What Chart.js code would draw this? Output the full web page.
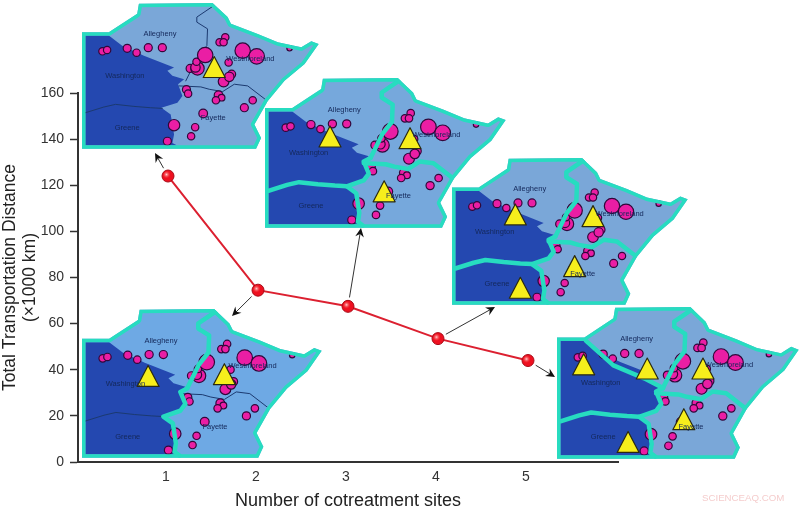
<!DOCTYPE html>
<html>
<head>
<meta charset="utf-8">
<style>
  html, body { margin: 0; padding: 0; background: #fff; }
  #wrap { width: 800px; height: 508px; position: relative; }
</style>
<script src="https://cdn.jsdelivr.net/npm/chart.js@4"></script>
</head>
<body>
<div id="wrap"><canvas id="chart" width="800" height="508"></canvas></div>
<script>
// ============================================================
// Data
// ============================================================
const sites = [1, 2, 3, 4, 5];
const distance = [124, 74.5, 67.5, 53.5, 44];
const yTicks = [0, 20, 40, 60, 80, 100, 120, 140, 160];

// ============================================================
// Inset map template (all in one shared map space, 705 x 432)
// ============================================================
const outline = [[35,95],[115,95],[200,40],[205,10],[425,8],[470,50],[480,70],[560,100],[620,125],[690,140],[720,122],[742,130],[700,190],[640,240],[590,300],[550,370],[570,410],[555,442],[35,442]];
const darkArea = [[45,105],[115,105],[155,135],[220,165],[310,200],[290,210],[305,225],[340,235],[322,250],[335,285],[320,305],[272,320],[300,340],[310,400],[305,425],[318,432],[45,432]];
const alleWest = [[430,15],[378,50],[378,65],[410,85],[408,135],[380,170],[345,240]];
const darkEdge = [[345,240],[325,250],[340,285],[325,305],[275,322],[303,342],[312,400],[308,425],[322,436]];
const washGreene = [[45,335],[100,318],[135,310],[190,316],[240,320],[275,322]];
const westFay = [[325,255],[390,258],[415,265],[455,272],[490,250],[530,255],[585,297]];
const alleWash = [[120,105],[200,175],[290,212],[345,240]];
const dots = [[96,152,11],[110,148,11],[170,143,12],[198,156,11],[233,141,12],[275,141,12],[358,203,12],[380,203,20],[374,200,14],[377,183,11],[403,163,23],[446,125,11],[463,110,11],[458,125,11],[515,150,23],[557,167,23],[655,143,8],[473,185,11],[458,242,16],[482,220,12],[475,228,14],[347,266,12],[352,278,11],[443,283,13],[452,290,10],[435,298,11],[545,298,11],[520,320,12],[397,337,13],[310,372,17],[373,378,11],[361,405,11],[290,420,12]];
const mapLabels = [["Allegheny",268,100],["Washington",163,226],["Greene",170,380],["Westmoreland",538,174],["Fayette",427,351]];
const insets = [
  { box:[82,3,236,145], light:"#7aa7d8", teal:[], thin:[alleWest,washGreene,westFay], tris:[[430,230]] },
  { box:[265,78,240,149], light:"#76a8dc", teal:[alleWest,darkEdge,washGreene,westFay], thin:[], tris:[[226,208],[461,213],[385,367]] },
  { box:[452,158,235,146], light:"#7aa7d8", teal:[alleWest,darkEdge,washGreene,westFay], thin:[], tris:[[225,206],[458,211],[403,359],[240,423]] },
  { box:[82,309,239,148], light:"#6ea9e4", teal:[alleWest,darkEdge], thin:[washGreene,westFay], tris:[[230,234],[455,229]] },
  { box:[557,307,241,151], light:"#7aa7d8", teal:[alleWest,darkEdge,washGreene,westFay,alleWash], thin:[], tris:[[113,202],[299,214],[462,214],[406,359],[243,424]] }
];
// arrows: index of the point they leave, then where the head lands
const arrows = [[0,155,153],[1,232,316],[2,361,228],[3,495,307],[4,555,377]];

// ============================================================
// Drawing helpers
// ============================================================
function tracePath(ctx, pts, fx, fy, close) {
  ctx.beginPath();
  pts.forEach((p, i) => i ? ctx.lineTo(fx(p[0]), fy(p[1])) : ctx.moveTo(fx(p[0]), fy(p[1])));
  if (close) ctx.closePath();
}

function drawInset(ctx, m) {
  const [bx, by, bw, bh] = m.box;
  const sx = bw / 705, sy = bh / 432;
  const fx = (x) => bx + (x - 35) * sx;
  const fy = (y) => by + (y - 8) * sy;

  ctx.save();
  ctx.lineJoin = "round";
  ctx.lineCap = "round";

  // everything stays inside the outline, band included
  tracePath(ctx, outline, fx, fy, true);
  ctx.clip();
  ctx.fillStyle = m.light;
  ctx.fillRect(bx - 5, by - 5, bw + 10, bh + 10);

  tracePath(ctx, darkArea, fx, fy, true);
  ctx.fillStyle = "#2448b0";
  ctx.fill();

  for (const t of m.thin) {
    tracePath(ctx, t, fx, fy, false);
    ctx.strokeStyle = "#1c3a70";
    ctx.lineWidth = 1;
    ctx.stroke();
  }

  for (const d of dots) {
    ctx.beginPath();
    ctx.arc(fx(d[0]), fy(d[1]), d[2] * sx, 0, Math.PI * 2);
    ctx.fillStyle = "#ea1ea4";
    ctx.fill();
    ctx.strokeStyle = "#30083a";
    ctx.lineWidth = 1.2;
    ctx.stroke();
  }

  for (const t of m.teal) {
    tracePath(ctx, t, fx, fy, false);
    ctx.strokeStyle = "#27dcc0";
    ctx.lineWidth = 4.5;
    ctx.stroke();
  }

  tracePath(ctx, outline, fx, fy, true);
  ctx.strokeStyle = "#27dcc0";
  ctx.lineWidth = 7;
  ctx.stroke();

  for (const t of m.tris) {
    const x = fx(t[0]), y = fy(t[1]);
    ctx.beginPath();
    ctx.moveTo(x, y - 21);
    ctx.lineTo(x + 11, y);
    ctx.lineTo(x - 11, y);
    ctx.closePath();
    ctx.fillStyle = "#f6ee1c";
    ctx.fill();
    ctx.strokeStyle = "#2a2a10";
    ctx.lineWidth = 1.2;
    ctx.stroke();
  }

  ctx.font = "7.5px 'Liberation Sans'";
  ctx.textAlign = "center";
  ctx.textBaseline = "middle";
  ctx.fillStyle = "#14285a";
  for (const l of mapLabels) ctx.fillText(l[0], fx(l[1]), fy(l[2]));
  ctx.restore();
}

function drawArrow(ctx, px, py, x1, y1) {
  const a = Math.atan2(y1 - py, x1 - px);
  // leave from just outside the ball
  const x0 = px + 9 * Math.cos(a), y0 = py + 9 * Math.sin(a);
  ctx.save();
  ctx.strokeStyle = "#333";
  ctx.fillStyle = "#111";
  ctx.lineWidth = 1;
  ctx.beginPath();
  ctx.moveTo(x0, y0);
  ctx.lineTo(x1 - 4 * Math.cos(a), y1 - 4 * Math.sin(a));
  ctx.stroke();
  ctx.beginPath();
  ctx.moveTo(x1, y1);
  ctx.lineTo(x1 - 10 * Math.cos(a - 0.45), y1 - 10 * Math.sin(a - 0.45));
  ctx.lineTo(x1 - 6 * Math.cos(a), y1 - 6 * Math.sin(a));
  ctx.lineTo(x1 - 10 * Math.cos(a + 0.45), y1 - 10 * Math.sin(a + 0.45));
  ctx.closePath();
  ctx.fill();
  ctx.restore();
}

// ============================================================
// Plugin: insets under the series, arrows and watermark on top
// ============================================================
const insetPlugin = {
  id: "insets",
  beforeDatasetsDraw(chart) {
    insets.forEach((m) => drawInset(chart.ctx, m));
  },
  afterDatasetsDraw(chart) {
    const ctx = chart.ctx;
    const pts = chart.getDatasetMeta(0).data;
    for (const a of arrows) drawArrow(ctx, pts[a[0]].x, pts[a[0]].y, a[1], a[2]);

    // little shine on the balls
    for (const p of pts) {
      const g = ctx.createRadialGradient(p.x - 1.5, p.y - 1.5, 0, p.x - 1.5, p.y - 1.5, 4);
      g.addColorStop(0, "rgba(255,215,215,.95)");
      g.addColorStop(1, "rgba(255,60,60,0)");
      ctx.fillStyle = g;
      ctx.beginPath();
      ctx.arc(p.x, p.y, 5, 0, Math.PI * 2);
      ctx.fill();
    }

    ctx.save();
    ctx.font = "9.7px 'Liberation Sans'";
    ctx.textAlign = "left";
    ctx.textBaseline = "middle";
    ctx.fillStyle = "#f5cdcd";
    ctx.fillText("SCIENCEAQ.COM", 702, 498);
    ctx.restore();
  }
};

// ============================================================
// Chart
// ============================================================
new Chart(document.getElementById("chart"), {
  type: "scatter",
  plugins: [insetPlugin],
  data: {
    datasets: [{
      data: sites.map((s, i) => ({ x: s, y: distance[i] })),
      showLine: true,
      borderColor: "#dc2030",
      borderWidth: 2,
      pointRadius: 6,
      pointBackgroundColor: "#ee1020",
      pointBorderColor: "#a80c18",
      pointBorderWidth: 1,
      clip: false
    }]
  },
  options: {
    responsive: false,
    animation: false,
    layout: { padding: { top: 93, right: 182, bottom: 0, left: 0 } },
    plugins: { legend: { display: false }, tooltip: { enabled: false } },
    scales: {
      x: {
        type: "linear",
        min: 0,
        max: 6,
        afterFit: (s) => { s.height = 46; },
        afterBuildTicks: (s) => { s.ticks = sites.map((v) => ({ value: v })); },
        grid: { display: false, drawTicks: false },
        border: { color: "#333", width: 2 },
        ticks: { color: "#333", font: { family: "'Liberation Sans'", size: 14 }, padding: 7, labelOffset: -2, maxRotation: 0, autoSkip: false },
        title: { display: true, text: "Number of cotreatment sites", color: "#222", font: { family: "'Liberation Sans'", size: 18, lineHeight: 0.8 }, padding: 0 }
      },
      y: {
        min: 0,
        max: 160,
        afterFit: (s) => { s.width = 78; },
        afterBuildTicks: (s) => { s.ticks = yTicks.map((v) => ({ value: v })); },
        grid: { display: true, drawOnChartArea: false, drawTicks: true, tickLength: 8, tickColor: "#333", tickWidth: 1.5 },
        border: { color: "#333", width: 2 },
        ticks: { color: "#333", font: { family: "'Liberation Sans'", size: 14 }, padding: 6, autoSkip: false },
        title: { display: true, text: ["Total Transportation Distance", "(×1000 km)"], color: "#222", font: { family: "'Liberation Sans'", size: 17.5, lineHeight: 1.15 }, padding: 0 }
      }
    }
  }
});
</script>
</body>
</html>
